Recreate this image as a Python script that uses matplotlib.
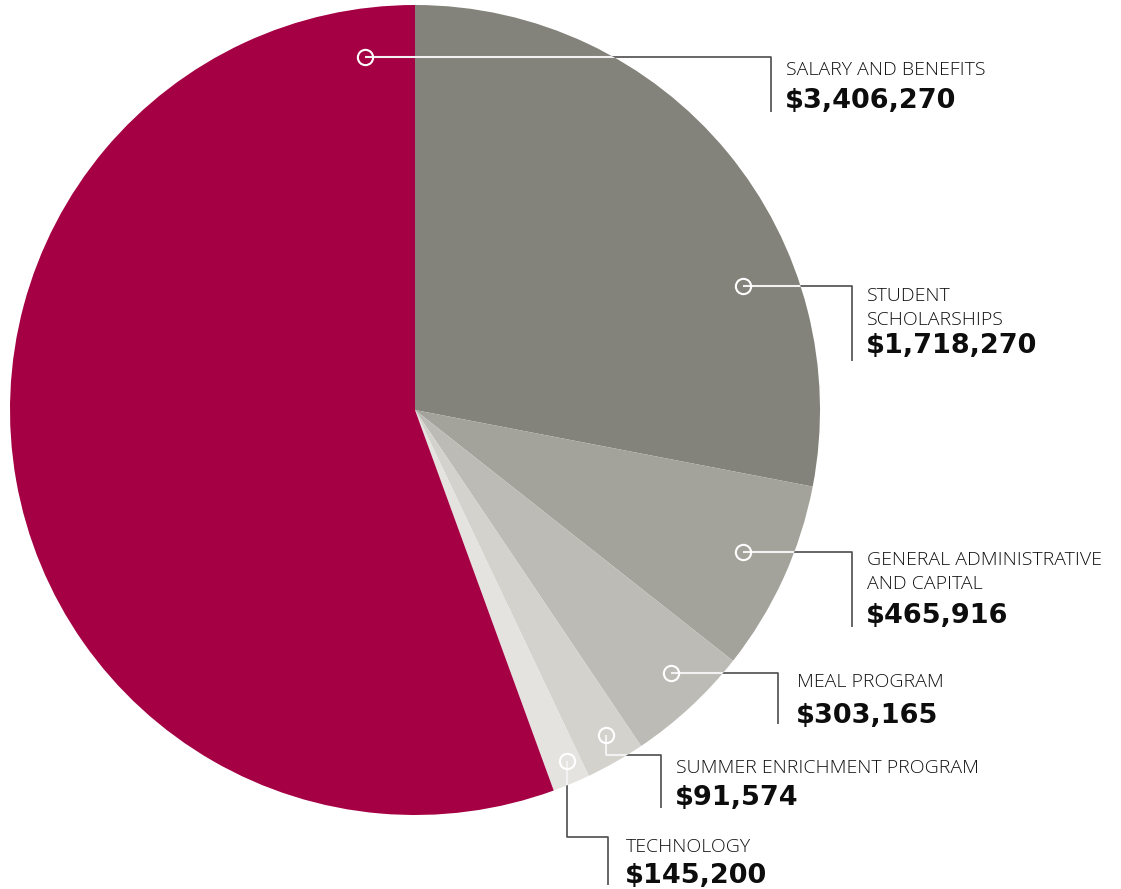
import matplotlib
matplotlib.use("Agg")
import matplotlib.pyplot as plt
from matplotlib.patches import Circle

W, H = 1121, 889

# slices, clockwise from 12 o'clock
categories = ["STUDENT\nSCHOLARSHIPS", "GENERAL ADMINISTRATIVE\nAND CAPITAL", "MEAL PROGRAM",
              "TECHNOLOGY", "SUMMER ENRICHMENT PROGRAM", "SALARY AND BENEFITS"]
amounts = [1718270, 465916, 303165, 145200, 91574, 3406270]
colors = ["#83837b", "#a3a39c", "#bcbbb5", "#d3d2cd", "#e5e3df", "#a50044"]

# pie geometry in pixels (y measured from top)
cx, cy, R = 415, 410, 405

# leader lines: path points (first one is the dot), text x, label baseline, value baseline
leaders = [
    dict(pts=[(743, 286), (852, 286), (852, 361)], tx=867, lab=301, val=353),
    dict(pts=[(743, 552), (852, 552), (852, 627)], tx=867, lab=565, val=623),
    dict(pts=[(671, 673), (778, 673), (778, 724)], tx=797, lab=687, val=723),
    dict(pts=[(567, 761), (567, 837), (608, 837), (608, 885)], tx=626, lab=852, val=883),
    dict(pts=[(606, 735), (606, 755), (661, 755), (661, 808)], tx=676, lab=773, val=805),
    dict(pts=[(365, 57), (771, 57), (771, 112)], tx=786, lab=75, val=108),
]


def Y(y):
    return H - y


fig = plt.figure(figsize=(W / 100, H / 100), dpi=100)
ax = fig.add_axes([0, 0, 1, 1])

ax.pie(amounts, colors=colors, startangle=90, counterclock=False,
       center=(cx, Y(cy)), radius=R, wedgeprops=dict(linewidth=0))
ax.set_xlim(0, W)
ax.set_ylim(0, H)
ax.set_aspect("auto")
ax.axis("off")

clip = Circle((cx, Y(cy)), R, transform=ax.transData)

for name, amt, ld in zip(categories, amounts, leaders):
    xs = [p[0] for p in ld["pts"]]
    ys = [Y(p[1]) for p in ld["pts"]]
    # dark part outside the pie, white part inside
    ax.plot(xs, ys, color="#4d4d4d", lw=1.2, solid_capstyle="butt", zorder=3)
    inner, = ax.plot(xs, ys, color="#f2f2f2", lw=1.5, solid_capstyle="butt", zorder=4)
    inner.set_clip_path(clip)
    ax.plot(xs[0], ys[0], "o", ms=11, mfc="none", mec="white", mew=1.5, zorder=5)
    # labels
    lines = name.split("\n")
    for i, line in enumerate(lines):
        ax.text(ld["tx"], Y(ld["lab"] + 24 * i), line, fontsize=14, family="Open Sans",
                fontweight="light", color="#111111", va="baseline", ha="left")
    ax.text(ld["tx"] - 1, Y(ld["val"]), f"${amt:,}", fontsize=19.5, family="DejaVu Sans",
            fontweight="bold", color="#0d0d0d", va="baseline", ha="left")

fig.savefig("out.png", dpi=100)
